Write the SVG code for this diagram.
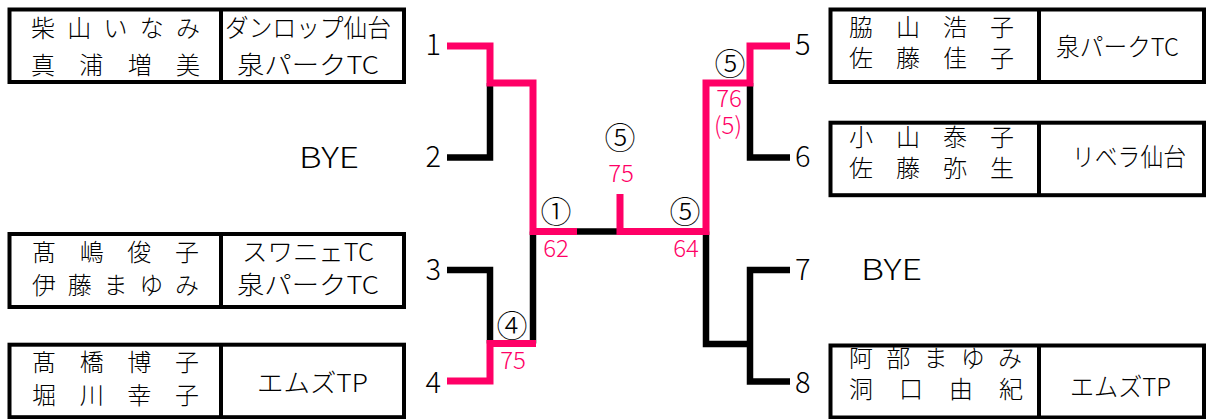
<svg xmlns="http://www.w3.org/2000/svg" width="1206" height="419" viewBox="0 0 1206 419">
<style>
.box{fill:#fff;stroke:#000;stroke-width:4}
.div{stroke:#000;stroke-width:4}
.t{font-family:"Noto Sans CJK JP",sans-serif;font-size:24px;font-weight:300;fill:#000}
.m{font-family:"Noto Sans CJK JP",sans-serif;font-size:25px;font-weight:300;fill:#000}
.n{font-family:"Noto Sans CJK JP",sans-serif;font-size:29px;font-weight:300;fill:#000}
.c{font-family:"Noto Sans CJK JP",sans-serif;font-size:31px;font-weight:300;fill:#000;text-anchor:middle}
.s{font-family:"Noto Sans CJK JP",sans-serif;font-size:24px;font-weight:300;fill:#ff0066;text-anchor:middle}
.bk{fill:none;stroke:#000;stroke-width:6.5;stroke-linejoin:miter}
.pk{fill:none;stroke:#ff0066;stroke-width:7;stroke-linejoin:miter}
</style>
<rect width="1206" height="419" fill="#fff"/>
<g id="connectors">
<path class="bk" d="M447,157.5H490V83"/>
<path class="bk" d="M577,231.5H620"/>
<path class="bk" d="M533,231.5V343.5"/>
<path class="bk" d="M447,270H490V343.5"/>
<path class="bk" d="M750,83V157.5H790"/>
<path class="bk" d="M706,231.5V344H750"/>
<path class="bk" d="M790,270H750V381.5H790"/>
<path class="pk" d="M447,46H490V83H533V231.5H577"/>
<path class="pk" d="M620,194V231.5H706V83H750V46H790"/>
<path class="pk" d="M447,381H490V343.5H536"/>
</g>
<g id="entry1">
<rect class="box" x="9.5" y="9.5" width="394.5" height="72.5"/>
<line class="div" x1="221" y1="9.5" x2="221" y2="82"/>
<text class="t" x="31" y="37" textLength="169" lengthAdjust="spacing">柴山いなみ</text>
<text class="t" x="31" y="74" textLength="169" lengthAdjust="spacing">真浦増美</text>
<text class="m" x="225" y="37" textLength="166" lengthAdjust="spacingAndGlyphs">ダンロップ仙台</text>
<text class="m" x="237" y="74" textLength="142" lengthAdjust="spacingAndGlyphs">泉パークTC</text>
<text class="n" x="441" y="55" text-anchor="end">1</text>
</g>
<g id="entry2">
<text class="n" x="299" y="168" textLength="60" lengthAdjust="spacingAndGlyphs">BYE</text>
<text class="n" x="441" y="167" text-anchor="end">2</text>
</g>
<g id="entry3">
<rect class="box" x="9.5" y="234" width="394.5" height="73"/>
<line class="div" x1="221" y1="234" x2="221" y2="307"/>
<text class="t" x="32" y="261" textLength="167" lengthAdjust="spacing">髙嶋俊子</text>
<text class="t" x="32" y="294" textLength="167" lengthAdjust="spacing">伊藤まゆみ</text>
<text class="m" x="242" y="261" textLength="132" lengthAdjust="spacingAndGlyphs">スワニェTC</text>
<text class="m" x="237" y="294" textLength="142" lengthAdjust="spacingAndGlyphs">泉パークTC</text>
<text class="n" x="441" y="280" text-anchor="end">3</text>
</g>
<g id="entry4">
<rect class="box" x="9.5" y="344.7" width="394.5" height="72.5"/>
<line class="div" x1="221" y1="344.7" x2="221" y2="417.2"/>
<text class="t" x="32" y="371" textLength="167" lengthAdjust="spacing">髙橋博子</text>
<text class="t" x="32" y="404" textLength="167" lengthAdjust="spacing">堀川幸子</text>
<text class="m" x="257" y="392" textLength="111" lengthAdjust="spacingAndGlyphs">エムズTP</text>
<text class="n" x="441" y="393" text-anchor="end">4</text>
</g>
<g id="entry5">
<rect class="box" x="830.5" y="9.5" width="373.5" height="72.5"/>
<line class="div" x1="1039" y1="9.5" x2="1039" y2="82"/>
<text class="t" x="849" y="36" textLength="165" lengthAdjust="spacing">脇山浩子</text>
<text class="t" x="849" y="67" textLength="165" lengthAdjust="spacing">佐藤佳子</text>
<text class="m" x="1056" y="56" textLength="123" lengthAdjust="spacingAndGlyphs">泉パークTC</text>
<text class="n" x="795" y="55">5</text>
</g>
<g id="entry6">
<rect class="box" x="830.5" y="122.7" width="373.5" height="72.5"/>
<line class="div" x1="1039" y1="122.7" x2="1039" y2="195.2"/>
<text class="t" x="849" y="146" textLength="165" lengthAdjust="spacing">小山泰子</text>
<text class="t" x="849" y="177" textLength="165" lengthAdjust="spacing">佐藤弥生</text>
<text class="m" x="1072" y="166" textLength="114" lengthAdjust="spacingAndGlyphs">リベラ仙台</text>
<text class="n" x="795" y="167">6</text>
</g>
<g id="entry7">
<text class="n" x="861" y="280" textLength="61" lengthAdjust="spacingAndGlyphs">BYE</text>
<text class="n" x="795" y="280">7</text>
</g>
<g id="entry8">
<rect class="box" x="830.5" y="345.5" width="373.5" height="72"/>
<line class="div" x1="1039" y1="345.5" x2="1039" y2="417.5"/>
<text class="t" x="849" y="367" textLength="173" lengthAdjust="spacing">阿部まゆみ</text>
<text class="t" x="849" y="398" textLength="174" lengthAdjust="spacing">洞口由紀</text>
<text class="m" x="1070" y="396" textLength="101" lengthAdjust="spacingAndGlyphs">エムズTP</text>
<text class="n" x="795" y="393">8</text>
</g>
<g id="scores">
<text class="c" x="556" y="223">①</text>
<text class="s" x="556" y="257">62</text>
<text class="c" x="620" y="149">⑤</text>
<text class="s" x="621" y="182">75</text>
<text class="c" x="685" y="223">⑤</text>
<text class="s" x="686" y="257">64</text>
<text class="c" x="730" y="75">⑤</text>
<text class="s" x="729" y="107">76</text>
<text class="s" x="728" y="134">(5)</text>
<text class="c" x="512" y="337">④</text>
<text class="s" x="513" y="369">75</text>
</g>
</svg>
